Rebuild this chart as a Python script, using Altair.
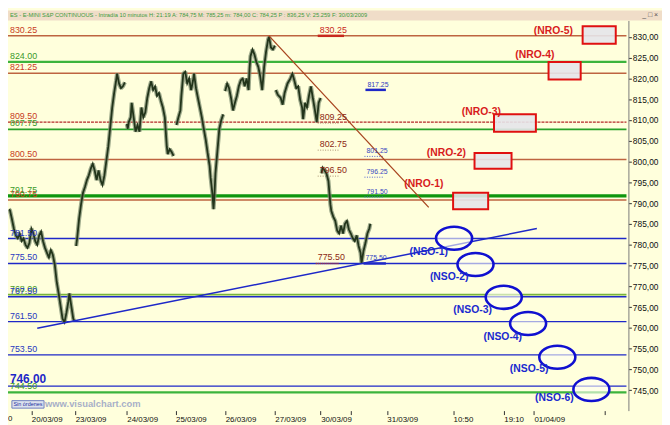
import altair as alt
import pandas as pd

FONT = "Liberation Sans, Arial, sans-serif"
W, H = 628, 395
X_DOMAIN = [0, 637]          # time slots across the panel
Y_DOMAIN = [740.1, 833.96]   # price

HEADER = ("ES - E-MINI S&P CONTINUOUS - Intradía 10 minutos H: 21:19 A: 784,75 "
          "M: 785,25 m: 784,00 C: 784,25 P : 836,25 V: 25.259 F: 30/03/2009")

# ---------------- price path (time slot, price) ----------------
seg1_x = [1, 2, 4, 6, 8, 10, 12, 14, 16, 18, 20, 22, 24, 26, 28, 30, 32, 34, 36, 38,
          40, 42, 44, 46, 48, 50, 52, 54, 56, 58, 60, 62, 63, 65, 67, 68]
seg1_p = [788.5, 788.3, 786.2, 783.9, 782.25, 781.55, 782.7, 780.85, 781.55, 779.95,
          779.25, 780.4, 783.9, 782.7, 780.85, 779.95, 782.25, 783.2, 780.85, 779.25,
          778.05, 776.9, 778.75, 777.6, 775.25, 771.1, 768.3, 765.25, 762.2, 761.3,
          763.6, 766.4, 768.3, 765.25, 762.2, 761.75]
seg2_x = [70, 71, 73, 75, 77, 79, 81, 83, 85, 87, 89, 91, 93, 95, 97, 99, 101, 103,
          105, 107, 109, 111, 112, 114, 116, 118, 120]
seg2_p = [779.7, 781.55, 786.2, 789.7, 792.5, 793.9, 795.55, 796.7, 798.3, 799.5,
          797.85, 795.55, 797.85, 795.55, 794.35, 796.7, 800.2, 803.7, 808.35, 813.0,
          816.5, 819.5, 821.15, 818.8, 817.65, 818.1, 819.05]
seg3_x = [122, 123, 124, 126, 127, 129, 131, 133, 135, 137, 139, 141, 143, 145, 147,
          149, 151, 153, 155, 157, 159, 161, 162, 163, 164, 166, 168, 170]
seg3_p = [809.05, 807.9, 809.5, 810.65, 814.15, 810.65, 807.2, 808.8, 807.2, 813.0,
          810.65, 811.85, 815.3, 817.65, 819.3, 817.2, 818.1, 815.8, 816.5, 814.6,
          813.0, 810.65, 807.2, 803.7, 801.8, 803.0, 802.3, 801.35]
seg4_x = [173, 175, 177, 178, 180, 182, 184, 186, 188, 190, 191, 193, 195, 197, 199,
          201, 203, 205, 207, 208, 210, 211, 212, 213, 215, 217, 219, 221]
seg4_p = [808.8, 810.65, 812.3, 815.8, 821.15, 821.6, 818.8, 820.0, 817.2, 819.5,
          821.15, 817.65, 815.3, 813.0, 810.65, 807.9, 805.3, 802.05, 799.0, 796.2,
          792.05, 788.55, 792.05, 797.15, 802.5, 807.9, 810.0, 811.35]
seg5_x = [223, 225, 227, 229, 231, 233, 235, 237, 239, 241, 243, 245, 247, 248, 249,
          251, 253, 255, 257, 259, 261, 262, 263, 265, 267, 268, 270, 272, 274]
seg5_p = [816.95, 818.8, 817.65, 815.3, 812.3, 814.15, 815.8, 818.1, 819.5, 820.0,
          818.1, 820.0, 817.2, 822.3, 825.35, 826.95, 825.8, 823.95, 822.8, 820.45,
          817.2, 820.0, 822.8, 826.5, 829.3, 830.0, 827.45, 826.95, 827.9]
seg6_x = [275, 277, 280, 282, 284, 287, 290, 292, 294, 296, 298, 300, 302, 303, 305,
          307, 309, 311, 313, 315, 317, 319, 321]
seg6_p = [817.2, 816.05, 815.3, 813.7, 816.5, 818.8, 820.0, 821.15, 819.5, 817.65,
          818.1, 814.85, 813.0, 810.2, 814.15, 813.0, 815.8, 818.1, 815.3, 812.55,
          809.5, 814.15, 815.3]
seg7_x = [322, 323, 325, 327, 329, 330, 331, 332, 334, 336, 338, 340, 342, 344, 346,
          348, 350, 352, 354, 356, 358, 360, 362, 363, 365, 367, 369, 371, 372]
seg7_p = [797.15, 798.55, 797.85, 797.15, 795.3, 792.5, 789.7, 788.1, 786.7, 785.75,
          783.4, 782.7, 784.6, 782.7, 785.05, 785.75, 783.65, 782.7, 781.55, 780.85,
          782.25, 779.7, 778.05, 775.5, 778.5, 780.4, 782.7, 783.9, 785.05]
seg_names = ["19-20/03", "23/03", "24/03", "25/03", "26/03", "27/03", "30/03"]

# ---------------- x axis ----------------
x_tick_pos = [24, 69, 122, 172, 223, 274, 321, 352, 389, 457, 509, 540, 613]
x_tick_lab = ["20/03/09", "23/03/09", "24/03/09", "25/03/09", "26/03/09", "27/03/09",
              "30/03/09", "", "31/03/09", "10:50", "19:10", "01/04/09", ""]
y_tick_vals = list(range(745, 831, 5))

# ---------------- full-width levels ----------------
level_price = [830.25, 824.00, 821.25, 809.50, 807.75, 800.50, 791.75, 790.75,
               781.50, 775.50, 768.00, 767.50, 761.50, 753.50, 746.00, 744.50]
level_label = ["830.25", "824.00", "821.25", "809.50", "807.75", "800.50", "791.75",
               "790.75", "781.50", "775.50", "768.00", "767.50", "761.50", "753.50",
               "746.00", "744.50"]
level_kind = ["R", "G", "R", "Rd", "G2", "R", "Gt", "R",
              "B", "B", "Gl", "B", "B", "B", "Bb", "G"]

# ---------------- short levels (marked highs / lows) ----------------
short_price = [830.25, 817.25, 809.25, 802.75, 796.50, 801.25, 796.25, 791.50, 775.50, 775.50]
short_x1 = [318, 367, 318, 318, 318, 366, 366, 366, 316, 365]
short_x2 = [345, 388, 340, 340, 340, 385, 385, 385, 340, 388]
short_label = ["830.25", "817.25", "809.25", "802.75", "796.50", "801.25", "796.25",
               "791.50", "775.50", "775.50"]
short_kind = ["rs", "bs", "bd0", "bd0", "bd0", "bd", "bd", "bd", "rd", "bs"]

# ---------------- trend lines ----------------
trend_name = ["down", "down", "up", "up"]
trend_x = [268, 432, 30, 543]
trend_p = [830.25, 789.0, 759.9, 783.9]

# ---------------- NRO boxes ----------------
nro_label = ["(NRO-5)", "(NRO-4)", "(NRO-3)", "(NRO-2)", "(NRO-1)"]
nro_x1 = [590, 555, 499, 479, 457]
nro_x2 = [624, 588, 542, 517, 493]
nro_top = [832.55, 823.95, 811.4, 802.05, 792.5]
nro_bot = [828.35, 819.75, 807.2, 798.3, 788.55]
nro_lab_x = [560, 541, 486, 450, 427]
nro_lab_p = [831.3, 825.6, 811.85, 802.05, 794.6]

# ---------------- NSO ellipses ----------------
nso_label = ["(NSO-1)", "(NSO-2)", "(NSO-3)", "(NSO-4)", "(NSO-5)", "(NSO-6)"]
nso_x = [458, 480, 509, 534, 564, 599]
nso_p = [781.55, 775.25, 767.35, 761.05, 752.95, 745.2]
nso_lab_x = [432, 453, 477, 508, 535, 561]
nso_lab_p = [778.3, 772.25, 764.3, 757.8, 750.1, 743.1]

# ======================================================================
XS = alt.Scale(domain=X_DOMAIN, nice=False, zero=False)
YS = alt.Scale(domain=Y_DOMAIN, nice=False, zero=False)
x_expr = "".join(f"datum.value == {p} ? '{l}' : " for p, l in zip(x_tick_pos, x_tick_lab)) + "''"
AX_X = alt.Axis(values=x_tick_pos, labelExpr=x_expr, title=None, grid=False, domain=False,
                tickSize=4, tickColor="#303030", labelAlign="left", labelBaseline="top",
                labelPadding=1, labelFontSize=8, labelFont=FONT, labelColor="#101010",
                labelOverlap=False, labelFlush=False, labelBound=False)
AX_Y = alt.Axis(orient="right", values=y_tick_vals, title=None, grid=False,
                labelExpr="replace(format(datum.value, '.2f'), '.', ',')",
                domainColor="#7A7A7A", tickSize=3, tickColor="#303030", labelPadding=1,
                labelFontSize=8.5, labelFont=FONT, labelColor="#101010", labelOverlap=False)


def X(f):
    return alt.X(f, type="quantitative", scale=XS, axis=AX_X)


def Y(f):
    return alt.Y(f, type="quantitative", scale=YS, axis=AX_Y)


layers = []

# header strip
hdr = pd.DataFrame({"t": [HEADER]})
layers.append(alt.Chart(hdr).mark_rect(color="#F0DDC8").encode(
    x=alt.value(0), x2=alt.value(W + 34), y=alt.value(-10), y2=alt.value(0)))
layers.append(alt.Chart(hdr).mark_text(align="left", baseline="middle", fontSize=5.8,
                                       font=FONT, color="#3C9A3C").encode(
    x=alt.value(2), y=alt.value(-5), text="t:N"))
layers.append(alt.Chart(pd.DataFrame({"t": ["_ □ ×"]})).mark_text(
    align="left", baseline="middle", fontSize=7, font=FONT, color="#505050").encode(
    x=alt.value(W + 14), y=alt.value(-5), text="t:N"))

# full width levels
lv = pd.DataFrame({"p": level_price, "lab": level_label, "k": level_kind})
lv["x1"] = 0
lv["x2"] = 635
lv["lx"] = 2
line_style = {
    "R": ("#BE6440", 1.5, None), "Rd": ("#B42828", 1.3, [3, 1]),
    "G": ("#3CB43C", 2.2, None), "G2": ("#28A028", 1.6, None),
    "Gt": ("#0E960E", 3.2, None), "Gl": ("#78B43C", 1.6, None),
    "B": ("#1E28C8", 1.4, None), "Bb": ("#1E28C8", 1.4, None),
}
label_style = {
    "R": ("#C83C1E", 9, "normal"), "Rd": ("#C83C1E", 9, "normal"),
    "G": ("#3A9A2A", 9, "normal"), "G2": ("#3A9A2A", 9, "normal"),
    "Gt": ("#3A9A2A", 9, "normal"), "Gl": ("#4A9A2A", 9, "normal"),
    "B": ("#2838C0", 9, "normal"), "Bb": ("#1E28C8", 12, "bold"),
}
for k, (col, sw, dash) in line_style.items():
    d = lv[lv.k == k]
    kw = dict(color=col, strokeWidth=sw)
    if dash:
        kw["strokeDash"] = dash
    layers.append(alt.Chart(d).mark_rule(**kw).encode(x=X("x1"), x2="x2:Q", y=Y("p")))

# short levels
sv = pd.DataFrame({"p": short_price, "x1": short_x1, "x2": short_x2,
                   "lab": short_label, "k": short_kind})
short_line = {"rs": ("#C8281E", 2.5, None), "bs": ("#1E28C8", 2.5, None),
              "bd0": ("#A89070", 1, [1, 1.5]), "bd": ("#5060D0", 1, [1, 1.5]),
              "rd": ("#C83C1E", 1.5, [1, 1])}
short_text = {"rs": ("#C8281E", 9), "bs": ("#3040C0", 7), "bd0": ("#8C2814", 9),
              "bd": ("#3848C0", 7), "rd": ("#8C2814", 9)}
for k, (col, sw, dash) in short_line.items():
    d = sv[sv.k == k]
    kw = dict(color=col, strokeWidth=sw)
    if dash:
        kw["strokeDash"] = dash
    layers.append(alt.Chart(d).mark_rule(**kw).encode(x=X("x1"), x2="x2:Q", y=Y("p")))

# price path: candle band (wicks) + bodies
rows = []
for name, xs, ps in zip(seg_names,
                        [seg1_x, seg2_x, seg3_x, seg4_x, seg5_x, seg6_x, seg7_x],
                        [seg1_p, seg2_p, seg3_p, seg4_p, seg5_p, seg6_p, seg7_p]):
    for xv, pv in zip(xs, ps):
        rows.append({"seg": name, "x": xv, "p": pv})
price = pd.DataFrame(rows)
layers.append(alt.Chart(price).mark_line(color="#7C8C70", strokeWidth=4.2, opacity=0.75,
                                         strokeJoin="bevel").encode(
    x=X("x"), y=Y("p"), detail="seg:N"))
layers.append(alt.Chart(price).mark_line(color="#22341A", strokeWidth=1.8).encode(
    x=X("x"), y=Y("p"), detail="seg:N"))

# trend lines
tr = pd.DataFrame({"name": trend_name, "x": trend_x, "p": trend_p})
layers.append(alt.Chart(tr[tr.name == "down"]).mark_line(color="#A8441E", strokeWidth=1.3)
              .encode(x=X("x"), y=Y("p")))
layers.append(alt.Chart(tr[tr.name == "up"]).mark_line(color="#1E28C8", strokeWidth=1.5)
              .encode(x=X("x"), y=Y("p")))

# NRO boxes
nro = pd.DataFrame({"lab": nro_label, "x1": nro_x1, "x2": nro_x2, "top": nro_top,
                    "bot": nro_bot, "lx": nro_lab_x, "lp": nro_lab_p})
layers.append(alt.Chart(nro).mark_rect(fill="#E6E6EA", fillOpacity=0.9, stroke="#E01010",
                                       strokeWidth=2).encode(
    x=X("x1"), x2="x2:Q", y=Y("top"), y2="bot:Q"))

# NSO ellipses
ELLIPSE = "M -1 0 A 1 0.64 0 1 0 1 0 A 1 0.64 0 1 0 -1 0 Z"
nso = pd.DataFrame({"lab": nso_label, "x": nso_x, "p": nso_p,
                    "lx": nso_lab_x, "lp": nso_lab_p})
layers.append(alt.Chart(nso).mark_point(shape=ELLIPSE, size=1330, filled=True,
                                        fill="#FFFFF4", fillOpacity=0.6,
                                        stroke="#1010D0", strokeWidth=2.6, opacity=1).encode(
    x=X("x"), y=Y("p")))

# level labels
for k, (col, fs, fw) in label_style.items():
    d = lv[lv.k == k]
    layers.append(alt.Chart(d).mark_text(align="left", baseline="alphabetic", dy=-3,
                                         fontSize=fs, fontWeight=fw, font=FONT,
                                         color=col).encode(
        x=X("lx"), y=Y("p"), text="lab:N"))
for k, (col, fs) in short_text.items():
    d = sv[sv.k == k]
    layers.append(alt.Chart(d).mark_text(align="left", baseline="alphabetic", dx=2, dy=-3,
                                         fontSize=fs, font=FONT, color=col).encode(
        x=X("x1"), y=Y("p"), text="lab:N"))

# NRO / NSO labels
layers.append(alt.Chart(nro).mark_text(align="center", baseline="middle", fontSize=10.5,
                                       fontWeight="bold", font=FONT, color="#D81C1C").encode(
    x=X("lx"), y=Y("lp"), text="lab:N"))
layers.append(alt.Chart(nso).mark_text(align="center", baseline="middle", fontSize=10.5,
                                       fontWeight="bold", font=FONT, color="#1A2ACF").encode(
    x=X("lx"), y=Y("lp"), text="lab:N"))

# watermark and order button
wm = pd.DataFrame({"t": ["www.visualchart.com"], "x": [38], "p": [741.6]})
layers.append(alt.Chart(wm).mark_text(align="left", baseline="middle", fontSize=9.5,
                                      fontWeight="bold", font=FONT, color="#A8B0C8").encode(
    x=X("x"), y=Y("p"), text="t:N"))
btn = pd.DataFrame({"t": ["Sin órdenes"], "x1": [4], "x2": [37], "top": [742.5],
                    "bot": [740.7], "xc": [20.5], "pc": [741.6]})
layers.append(alt.Chart(btn).mark_rect(fill="#DDE2EE", stroke="#7080C0", strokeWidth=1)
              .encode(x=X("x1"), x2="x2:Q", y=Y("top"), y2="bot:Q"))
layers.append(alt.Chart(btn).mark_text(align="center", baseline="middle", fontSize=5.5,
                                       font=FONT, color="#2030A0").encode(
    x=X("xc"), y=Y("pc"), text="t:N"))

# clipped previous-day label at the left edge
zero = pd.DataFrame({"t": ["0"], "x": [0]})
layers.append(alt.Chart(zero).mark_text(align="left", baseline="top", fontSize=8, font=FONT,
                                        color="#101010").encode(
    x=X("x"), y=alt.value(H + 5), text="t:N"))

chart = alt.layer(*layers).properties(
    width=W, height=H,
    autosize=alt.AutoSizeParams(type="none"),
    padding={"left": 0, "top": 10, "right": 34, "bottom": 12},
    background="#FFFFDC",
).configure_view(stroke=None, fill="#FFFFDC")

chart.save("out.html", embed_options={"renderer": "svg", "actions": False})
